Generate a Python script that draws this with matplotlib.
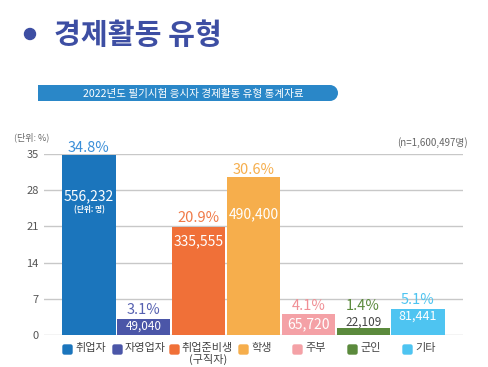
import matplotlib.pyplot as plt
from matplotlib.patches import FancyBboxPatch, Rectangle, Circle

plt.rcParams['font.family'] = ['Noto Sans CJK KR', 'DejaVu Sans']

# data
categories = ['취업자', '자영업자', '취업준비생\n(구직자)', '학생', '주부', '군인', '기타']
percents = [34.8, 3.1, 20.9, 30.6, 4.1, 1.4, 5.1]
counts = [556232, 49040, 335555, 490400, 65720, 22109, 81441]
yticks = [0, 7, 14, 21, 28, 35]

colors = ['#1b75bc', '#4b56a8', '#f07038', '#f6ae4c', '#f4a1a6', '#5b8a3c', '#4ec4f1']
pct_colors = ['#3b8fd8', '#5560b0', '#f07a48', '#f6ae4c', '#f08f95', '#5b8a3c', '#4ec4f1']
count_colors = ['white', 'white', 'white', 'white', 'white', '#444444', 'white']

# label layout (pixel offsets from bar top)
pct_off = [7, 9, 9, 7, 8, 22, 9]
count_off = [-41, -7, -14, -38, -10, 6, -8]
count_size = [10, 8.5, 10, 10, 10, 8.5, 9]

W, H = 488, 367
fig = plt.figure(figsize=(W / 100, H / 100), dpi=100)

# overlay in pixel coordinates for the decorations
deco = fig.add_axes([0, 0, 1, 1])
deco.set_xlim(0, W)
deco.set_ylim(H, 0)
deco.axis('off')

ax = fig.add_axes([44 / W, 1 - 335 / H, (463 - 44) / W, (335 - 154) / H])
x = list(range(len(categories)))
ax.bar(x, percents, width=0.97, color=colors, zorder=3)
ax.set_xlim(-0.82, 6.82)
ax.set_ylim(0, 35)
ax.set_yticks(yticks)
ax.set_yticklabels([str(t) for t in yticks], color='#555555', fontsize=8)
ax.tick_params(axis='y', length=0, pad=4)
ax.set_xticks([])
for s in ax.spines.values():
    s.set_visible(False)
ax.grid(axis='y', color='#c8c8c8', linewidth=1, zorder=0)

for i, (p, c) in enumerate(zip(percents, counts)):
    ax.annotate(f'{p}%', (i, p), xytext=(0, pct_off[i]), textcoords='offset pixels',
                ha='center', va='center', color=pct_colors[i], fontsize=10.5,
                annotation_clip=False)
    ax.annotate(f'{c:,}', (i, p), xytext=(0, count_off[i]), textcoords='offset pixels',
                ha='center', va='center', color=count_colors[i], fontsize=count_size[i],
                annotation_clip=False)
ax.annotate('(단위: 명)', (0, percents[0]), xytext=(0, -55), textcoords='offset pixels',
            ha='center', va='center', color='white', fontsize=5.5, fontweight='bold')

# title
deco.add_patch(Circle((30, 34), 5.5, color='#3d4ea3'))
deco.text(54, 35, '경제활동 유형', fontsize=21, fontweight='bold',
          color='#3d4ea3', va='center', ha='left')

# banner (square left end, round right end)
deco.add_patch(Rectangle((38, 85), 292, 16, color='#2a87c8', lw=0))
deco.add_patch(Circle((330, 93), 8, color='#2a87c8', lw=0))
deco.text(193, 93.5, '2022년도 필기시험 응시자 경제활동 유형 통계자료',
          color='white', fontsize=7.6, ha='center', va='center')

deco.text(14, 137, '(단위: %)', fontsize=6.5, color='#666666', va='center')
deco.text(468, 143, '(n=1,600,497명)', fontsize=7, color='#666666',
          va='center', ha='right')

# legend
legend_x = [63, 113, 170, 239, 293, 348, 403]
for lx, lab, col in zip(legend_x, categories, colors):
    deco.add_patch(FancyBboxPatch((lx, 345), 9, 9, boxstyle='round,pad=0,rounding_size=1.5',
                                  color=col))
    deco.text(lx + 12, 343.5, lab, fontsize=8, color='#444444',
              ha='left', va='top', multialignment='center', linespacing=1.05)

fig.savefig('out.png', dpi=100)
